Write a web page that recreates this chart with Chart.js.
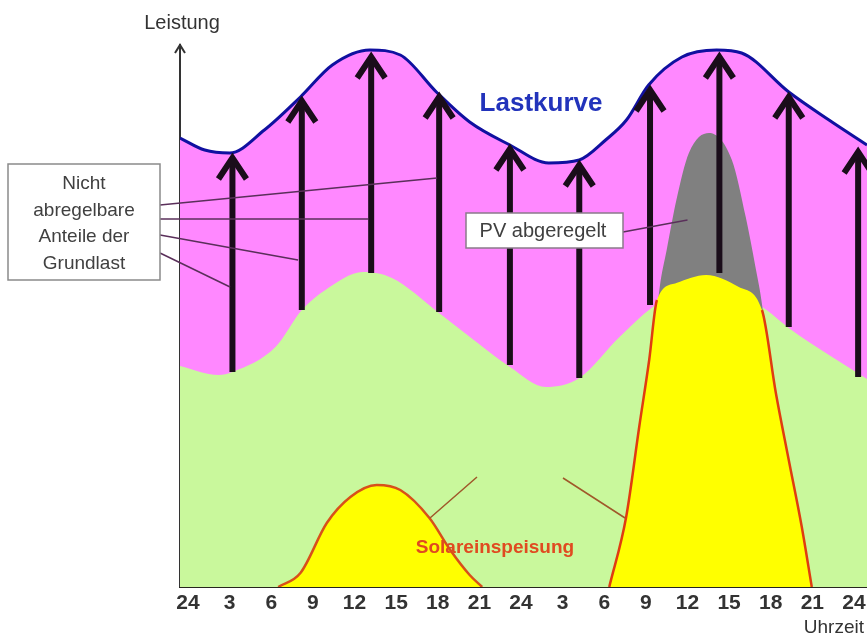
<!DOCTYPE html>
<html>
<head>
<meta charset="utf-8">
<script src="https://cdn.jsdelivr.net/npm/chart.js@4.4.0/dist/chart.umd.min.js"></script>
<style>
  html, body { margin: 0; padding: 0; background: #fff; }
  canvas { display: block; }
</style>
</head>
<body>
<canvas id="grafica" width="867" height="635"></canvas>
<script>
// x-Achse: Stunden (0..48) und ihre Beschriftung
const tickStunden = [0, 3, 6, 9, 12, 15, 18, 21, 24, 27, 30, 33, 36, 39, 42, 45, 48];
const tickLabels = ['24', '3', '6', '9', '12', '15', '18', '21', '24', '3', '6', '9', '12', '15', '18', '21', '24'];

// Lastkurve
const lastStunden = [-0.58, 1.2, 3.0, 5.5, 8.1, 10.4, 13.1, 15.3, 17.9, 20.3, 23.2, 26.0, 28.2, 30.1, 31.6, 33.2, 35.6, 38.1, 39.9, 43.3, 46.2, 48.94];
const lastWerte   = [449, 437, 434, 457, 490, 522, 537, 532, 495, 465, 442, 424, 427, 447, 467, 502, 530, 537, 534, 495, 467, 442];

// nicht abregelbare Grundlast (grün)
const grundStunden = [-0.58, 2.2, 3.2, 6.3, 8.2, 9.9, 12.6, 14.7, 18.0, 20.6, 23.2, 25.8, 28.2, 31.1, 33.5, 37.6, 41.7, 43.3, 46.2, 48.94];
const grundWerte   = [221, 212, 215, 240, 277, 297, 315, 309, 275, 247, 220, 200, 209, 250, 280, 312, 277, 259, 232, 208];

// PV abgeregelt (grau)
const pvAbStunden = [32.5, 33.5, 34.0, 34.5, 35.2, 36.1, 37.55, 39.2, 40.2, 40.9, 41.4, 42.0, 42.8, 43.5];
const pvAbWerte   = [100, 235, 300, 337, 387, 434, 454, 427, 370, 320, 280, 200, 90, 0];

// Solareinspeisung Tag 1 und Tag 2 (gelb)
const solar1Stunden = [6.5, 8.1, 10.0, 11.7, 13.6, 15.3, 17.4, 18.9, 20.3, 21.2];
const solar1Werte   = [0, 14, 64, 90, 102, 97, 69, 37, 12, 0];
const solar2Stunden = [30.36, 31.58, 32.52, 33.24, 33.8, 35.2, 37.34, 39.7, 41.37, 42.37, 43.3, 44.24, 44.96];
const solar2Werte   = [0, 70, 160, 227, 287, 304, 312, 300, 277, 194, 127, 60, 0];

// Pfeile (Grundlast -> Lastkurve)
const pfeilStunden = [3.2, 8.2, 13.2, 18.1, 23.2, 28.2, 33.3, 38.3, 43.3, 48.3];
const pfeilBasis   = [215, 277, 314, 275, 222, 209, 282, 314, 260, 210];
const pfeilSpitze  = [432, 489, 533, 493, 441, 425, 500, 533, 493, 438];

const punkte = (xs, ys) => xs.map((x, i) => ({ x: x, y: ys[i] }));

const schrift = "'Liberation Sans', Arial, sans-serif";
const rot = '#e03c10';

const beschriftung = {
    id: 'beschriftung',
    afterDatasetsDraw(chart) {
        const ctx = chart.ctx;
        const xs = chart.scales.x, ys = chart.scales.y;
        const px = h => xs.getPixelForValue(h);
        const py = v => ys.getPixelForValue(v);
        const area = chart.chartArea;
        ctx.save();

        // Pfeile
        ctx.strokeStyle = '#1a0d1a';
        pfeilStunden.forEach((h, i) => {
            const x = px(h), y0 = py(pfeilBasis[i]), y1 = py(pfeilSpitze[i]);
            ctx.lineWidth = 6;
            ctx.lineCap = 'butt';
            ctx.beginPath();
            ctx.moveTo(x, y0);
            ctx.lineTo(x, y1 + 3);
            ctx.stroke();
            ctx.lineJoin = 'miter';
            ctx.beginPath();
            ctx.moveTo(x - 14, y1 + 24);
            ctx.lineTo(x, y1 + 3);
            ctx.lineTo(x + 14, y1 + 24);
            ctx.stroke();
        });

        // Pfeilspitze der y-Achse
        ctx.strokeStyle = '#333';
        ctx.lineWidth = 2;
        ctx.beginPath();
        ctx.moveTo(area.left - 5, area.top + 8);
        ctx.lineTo(area.left, area.top);
        ctx.lineTo(area.left + 5, area.top + 8);
        ctx.stroke();

        // Hinweislinien Grundlast
        ctx.strokeStyle = '#5a2f5a';
        ctx.lineWidth = 1.5;
        const grundZiele = [[17.95, 409, 205], [12.97, 368, 219], [7.93, 327, 235], [3.03, 300, 253]];
        grundZiele.forEach(z => {
            ctx.beginPath();
            ctx.moveTo(160, z[2]);
            ctx.lineTo(px(z[0]), py(z[1]));
            ctx.stroke();
        });
        // Hinweislinie PV abgeregelt
        ctx.beginPath();
        ctx.moveTo(623, 232);
        ctx.lineTo(px(36.0), py(367));
        ctx.stroke();

        // Hinweislinien Solareinspeisung
        ctx.strokeStyle = '#a0582a';
        ctx.beginPath();
        ctx.moveTo(477, 477);
        ctx.lineTo(px(17.44), py(69));
        ctx.moveTo(563, 478);
        ctx.lineTo(px(31.5), py(69));
        ctx.stroke();

        // Kasten Grundlast
        ctx.fillStyle = '#fff';
        ctx.strokeStyle = '#8a8a8a';
        ctx.lineWidth = 1.5;
        ctx.fillRect(8, 164, 152, 116);
        ctx.strokeRect(8, 164, 152, 116);
        ctx.fillStyle = '#404040';
        ctx.font = '19px ' + schrift;
        ctx.textAlign = 'center';
        ctx.textBaseline = 'middle';
        ['Nicht', 'abregelbare', 'Anteile der', 'Grundlast'].forEach((t, i) => {
            ctx.fillText(t, 84, 184 + i * 26.5);
        });

        // Kasten PV abgeregelt
        ctx.fillStyle = '#fff';
        ctx.strokeStyle = '#8a7a8a';
        ctx.fillRect(466, 213, 157, 35);
        ctx.strokeRect(466, 213, 157, 35);
        ctx.fillStyle = '#404040';
        ctx.font = '20px ' + schrift;
        ctx.fillText('PV abgeregelt', 543, 231);

        // Lastkurve / Solareinspeisung
        ctx.fillStyle = '#2233bb';
        ctx.font = 'bold 26px ' + schrift;
        ctx.fillText('Lastkurve', 541, 104);
        ctx.fillStyle = '#e04a20';
        ctx.font = 'bold 19px ' + schrift;
        ctx.fillText('Solareinspeisung', 495, 548);

        // Achsentitel
        ctx.fillStyle = '#333';
        ctx.font = '20px ' + schrift;
        ctx.fillText('Leistung', 182, 23);
        ctx.textAlign = 'right';
        ctx.font = '19px ' + schrift;
        ctx.fillText('Uhrzeit', 864, 628);

        ctx.restore();
    }
};

const ctx = document.getElementById('grafica').getContext('2d');
new Chart(ctx, {
    type: 'line',
    data: {
        datasets: [
            {
                label: 'Lastkurve',
                data: punkte(lastStunden, lastWerte),
                borderColor: '#1010a0',
                borderWidth: 3,
                backgroundColor: '#ff88ff',
                fill: 'origin',
                order: 6
            },
            {
                label: 'Grundlast',
                data: punkte(grundStunden, grundWerte),
                borderColor: 'rgba(0,0,0,0)',
                borderWidth: 0,
                backgroundColor: '#c9f89c',
                fill: 'origin',
                order: 5
            },
            {
                label: 'PV abgeregelt',
                data: punkte(pvAbStunden, pvAbWerte),
                borderColor: 'rgba(0,0,0,0)',
                borderWidth: 0,
                backgroundColor: '#808080',
                fill: 'origin',
                order: 4
            },
            {
                label: 'Solar 2',
                data: punkte(solar2Stunden, solar2Werte),
                borderColor: 'rgba(0,0,0,0)',
                borderWidth: 0,
                backgroundColor: '#ffff00',
                fill: 'origin',
                order: 3
            },
            {
                // Rand von Solar 2, Kuppe oben ohne Rand
                label: 'Solar 2 Rand',
                data: punkte(solar2Stunden, solar2Werte),
                borderColor: rot,
                borderWidth: 2.5,
                fill: false,
                order: 2,
                segment: {
                    borderColor: c => (c.p0DataIndex >= 4 && c.p0DataIndex < 8) ? 'rgba(0,0,0,0)' : rot
                }
            },
            {
                label: 'Solar 1',
                data: punkte(solar1Stunden, solar1Werte),
                borderColor: '#d8501a',
                borderWidth: 2.5,
                backgroundColor: '#ffff00',
                fill: 'origin',
                order: 3
            }
        ]
    },
    options: {
        responsive: false,
        animation: false,
        devicePixelRatio: 1,
        elements: {
            point: { radius: 0, hoverRadius: 0 },
            line: { cubicInterpolationMode: 'monotone' }
        },
        layout: { autoPadding: false, padding: { left: 180, right: 0, top: 45, bottom: 16 } },
        scales: {
            x: {
                type: 'linear',
                min: -0.58,
                max: 48.94,
                afterBuildTicks: scale => { scale.ticks = tickStunden.map(v => ({ value: v })); },
                grid: { display: false, drawTicks: false },
                border: { display: true, color: '#26261e', width: 3 },
                ticks: {
                    autoSkip: false,
                    maxRotation: 0,
                    padding: 0,
                    color: '#333',
                    font: { family: schrift, size: 21, weight: 'bold', lineHeight: 1.524 },
                    callback: (value, index) => tickLabels[index]
                }
            },
            y: {
                min: 0,
                max: 542,
                grid: { display: false, drawTicks: false },
                border: { display: true, color: '#333', width: 2 },
                ticks: { display: false }
            }
        },
        plugins: {
            legend: { display: false },
            tooltip: { enabled: false }
        }
    },
    plugins: [beschriftung]
});
</script>
</body>
</html>
